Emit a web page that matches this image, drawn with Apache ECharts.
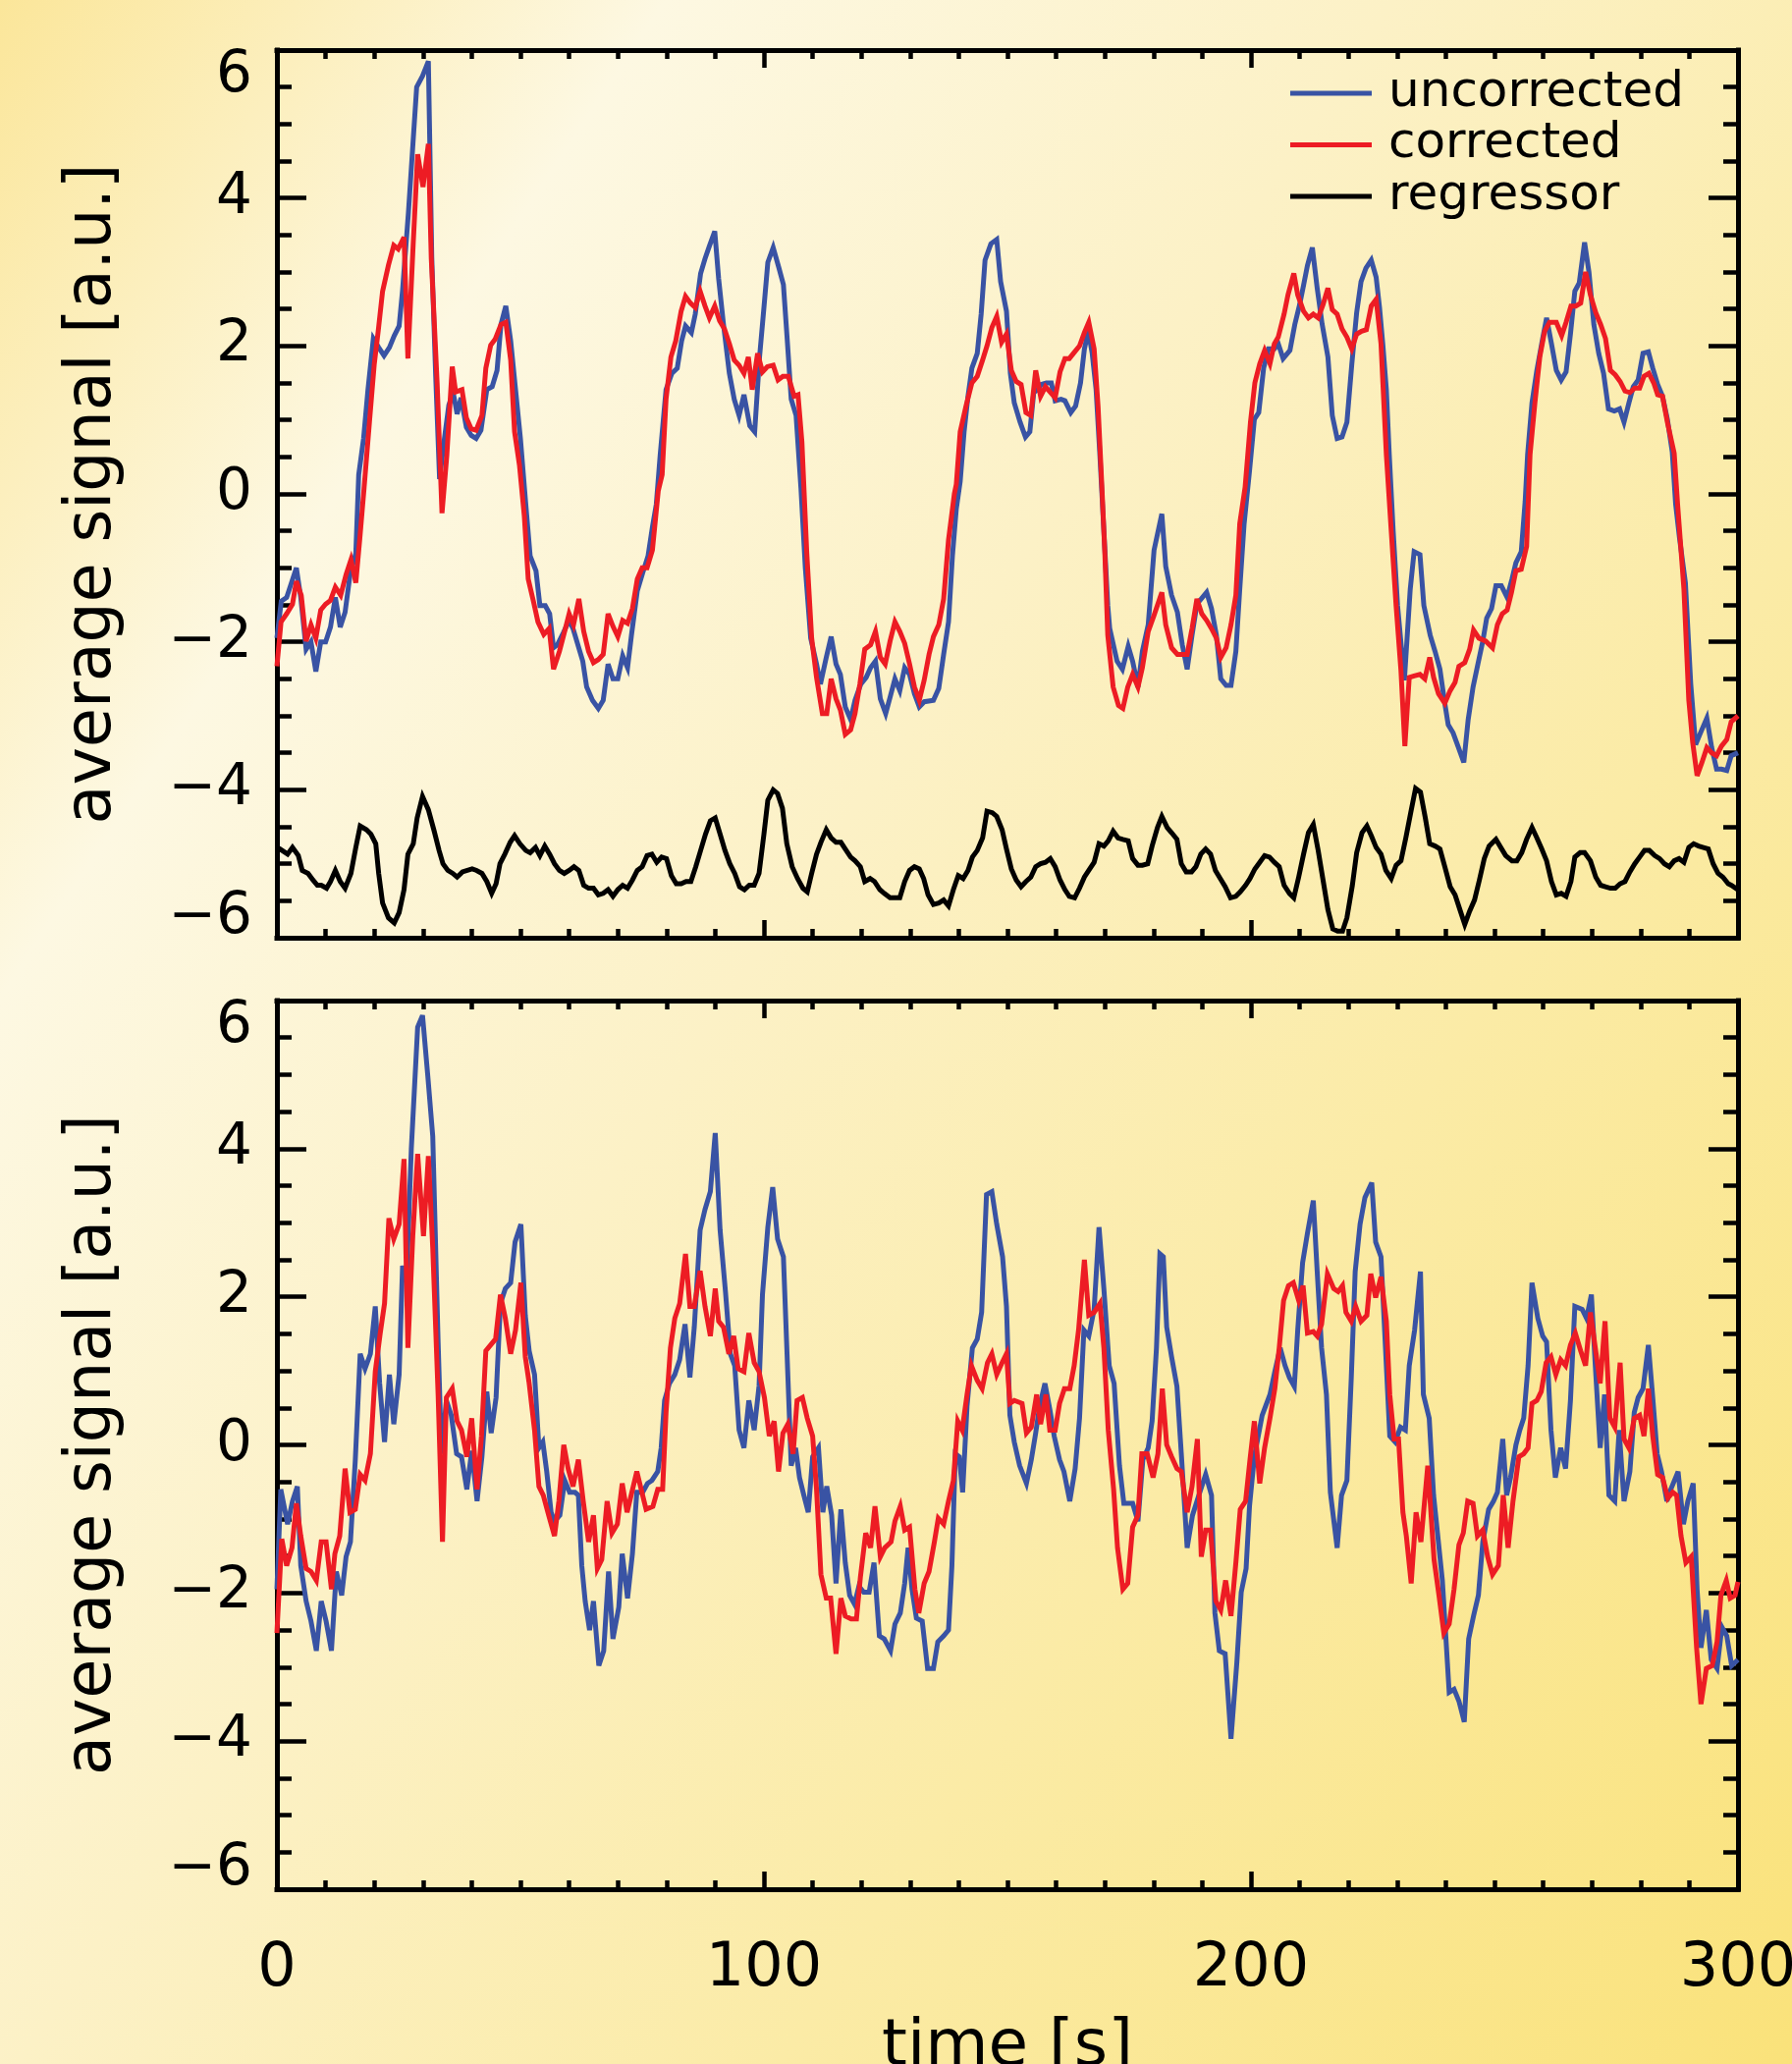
<!DOCTYPE html>
<html>
<head>
<meta charset="utf-8">
<script src="https://cdn.jsdelivr.net/npm/echarts@6/dist/echarts.min.js"></script>
<style>
html,body{margin:0;padding:0;}
#chart{width:1825px;height:2102px;background:linear-gradient(123.7deg,#fbe69a 0%,#fdf8e2 21%,#fcf1c6 44%,#fbeba6 68%,#fae27a 100%);}
</style>
</head>
<body>
<div id="chart"></div>
<script>
// ---- data (time [s], average signal [a.u.]) ----
const xTicks = [0, 100, 200, 300];
const yTicks = [-6, -4, -2, 0, 2, 4, 6];
const legendNames = ['uncorrected', 'corrected', 'regressor'];

const topUncorrected = [[0,-1.95],[0.9,-1.45],[2,-1.4],[4,-1.0],[4.9,-1.4],[6,-2.1],[7,-2.0],[8,-2.4],[9,-2.0],[10,-2.0],[11,-1.8],[12,-1.4],[13,-1.8],[14,-1.6],[15,-1.1],[16.2,-0.8],[16.8,0.26],[17.8,0.75],[18.7,1.41],[19.8,2.1],[20.9,1.98],[22,1.87],[23.1,1.98],[24.1,2.14],[25.1,2.27],[25.8,2.75],[27,3.8],[28.7,5.5],[29.9,5.65],[31.1,5.85],[31.8,3.2],[32.6,1.6],[33.4,0.2],[34.3,0.7],[35.3,1.2],[36.2,1.37],[37,1.08],[37.8,1.3],[38.9,0.9],[39.9,0.79],[40.9,0.75],[41.9,0.86],[43.1,1.41],[44.2,1.45],[45.2,1.67],[46,2.29],[47,2.54],[48,2.07],[49,1.41],[50,0.75],[51.1,-0.14],[52,-0.84],[53.2,-1.04],[54,-1.51],[55.1,-1.51],[56,-1.62],[56.8,-2.08],[57.6,-2.04],[58.8,-1.88],[60,-1.71],[60.8,-1.82],[62.8,-2.26],[63.6,-2.61],[64.8,-2.79],[66,-2.9],[67,-2.79],[68,-2.3],[69,-2.5],[70,-2.5],[71,-2.19],[72,-2.35],[72.8,-1.91],[74,-1.31],[75.1,-1.07],[76.2,-0.84],[77.1,-0.45],[77.9,-0.14],[78.7,0.53],[79.9,1.41],[81.1,1.63],[82.2,1.7],[83.1,2.07],[83.9,2.27],[85.1,2.18],[85.9,2.43],[87,2.98],[87.9,3.18],[88.8,3.35],[89.9,3.55],[90.7,2.91],[91.7,2.29],[92.9,1.63],[93.9,1.28],[94.9,1.06],[95.9,1.34],[97.1,0.92],[98.1,0.84],[99.1,1.85],[100,2.52],[100.8,3.13],[101.9,3.33],[103.1,3.05],[104,2.83],[104.8,2.07],[105.6,1.28],[106.6,1.06],[107.6,0.08],[108.5,-1.0],[109.6,-1.95],[110.8,-2.3],[111.6,-2.57],[112.8,-2.21],[113.8,-1.93],[114.8,-2.3],[115.7,-2.44],[116.7,-2.88],[117.8,-3.05],[118.7,-2.79],[119.9,-2.57],[121,-2.48],[121.9,-2.35],[122.9,-2.26],[123.9,-2.77],[125,-2.97],[125.9,-2.75],[126.9,-2.5],[127.9,-2.66],[128.9,-2.35],[129.9,-2.44],[130.9,-2.7],[131.9,-2.88],[132.9,-2.81],[134.8,-2.79],[135.9,-2.63],[136.9,-2.17],[137.9,-1.73],[138.7,-0.84],[139.5,-0.2],[140.3,0.17],[141.1,0.84],[141.9,1.32],[142.7,1.7],[143.8,1.9],[144.6,2.43],[145.4,3.16],[146.6,3.38],[147.8,3.44],[148.6,2.87],[149.8,2.47],[150.6,1.63],[151.4,1.23],[152.6,0.97],[153.7,0.77],[154.6,0.84],[155.4,1.37],[156.2,1.41],[157,1.48],[158,1.5],[159,1.5],[159.8,1.26],[161,1.28],[161.8,1.26],[163,1.1],[164,1.19],[165,1.5],[165.8,1.96],[166.6,2.2],[167.4,1.9],[168.2,1.41],[169,0.5],[169.8,-0.5],[170.6,-1.51],[171,-1.82],[172.5,-2.26],[173.6,-2.37],[174.8,-2.06],[175.7,-2.26],[176.8,-2.61],[177.7,-2.13],[178.9,-1.77],[180.1,-0.76],[181.7,-0.27],[182.5,-0.98],[183.7,-1.37],[184.9,-1.6],[185.9,-2.04],[186.9,-2.37],[187.9,-1.91],[188.9,-1.49],[190.9,-1.33],[191.9,-1.55],[192.9,-1.91],[193.8,-2.5],[194.9,-2.59],[195.9,-2.59],[196.9,-2.13],[197.7,-1.29],[198.6,-0.4],[199.7,0.31],[200.7,1.01],[201.6,1.1],[202.6,1.7],[203.6,1.96],[204.8,1.96],[205.6,2.03],[206.6,1.83],[208,1.94],[209,2.29],[210,2.56],[210.8,2.82],[211.6,3.09],[212.6,3.33],[213.6,2.78],[214.6,2.3],[215.8,1.85],[216.7,1.06],[217.7,0.75],[218.7,0.77],[219.7,0.97],[220.7,1.75],[221.7,2.45],[222.6,2.87],[223.6,3.05],[224.7,3.16],[225.7,2.93],[226.4,2.52],[227.1,2.0],[227.8,1.41],[228.4,0.53],[229.2,-0.5],[230.1,-1.51],[231.5,-2.52],[232.7,-1.29],[233.5,-0.78],[234.7,-0.82],[235.5,-1.51],[236.8,-1.91],[237.8,-2.13],[238.8,-2.37],[239.7,-2.79],[240.5,-3.12],[241.5,-3.23],[242.5,-3.41],[243.7,-3.63],[244.6,-3.05],[245.6,-2.61],[246.6,-2.3],[247.6,-1.99],[248.4,-1.68],[249.4,-1.55],[250.3,-1.24],[251.4,-1.24],[252.6,-1.4],[253.6,-1.15],[254.4,-0.93],[255.5,-0.78],[256.3,-0.1],[256.8,0.53],[257.7,1.23],[258.7,1.67],[259.7,2.03],[260.7,2.38],[261.7,2.03],[262.7,1.67],[263.7,1.54],[264.7,1.65],[265.6,2.16],[266.5,2.74],[267.4,2.85],[268.5,3.4],[269.4,3.0],[270.4,2.29],[271.4,1.9],[272.4,1.63],[273.4,1.15],[274.6,1.12],[275.7,1.15],[276.6,0.97],[277.6,1.23],[278.5,1.45],[279.5,1.54],[280.5,1.9],[281.6,1.92],[282.5,1.7],[283.5,1.48],[284.5,1.32],[285.5,1.01],[286.5,0.57],[287.2,-0.14],[288,-0.6],[289.2,-1.2],[290.3,-2.57],[291.3,-3.39],[292.3,-3.23],[293.6,-3.03],[294.6,-3.43],[295.6,-3.72],[296.6,-3.72],[297.7,-3.74],[298.6,-3.54],[300,-3.5]];

const topCorrected = [[0,-2.33],[0.85,-1.73],[2,-1.62],[3.2,-1.49],[4,-1.18],[5,-1.37],[6,-1.99],[7,-1.77],[8,-1.95],[9,-1.57],[10,-1.49],[11,-1.44],[12,-1.26],[13.1,-1.37],[14.2,-1.09],[15.2,-0.89],[16.2,-1.2],[17,-0.62],[17.9,0.08],[19,0.97],[20,1.76],[20.8,2.2],[21.7,2.74],[22.9,3.09],[24,3.36],[24.9,3.31],[26.1,3.47],[26.9,1.83],[28,3.4],[28.9,4.59],[30,4.15],[31.1,4.73],[31.7,3.18],[32.9,1.5],[33.9,-0.26],[34.9,0.53],[36,1.72],[36.7,1.38],[38,1.41],[38.9,1.03],[39.9,0.88],[40.9,0.86],[42.1,1.06],[42.9,1.7],[43.9,2.01],[44.8,2.09],[46,2.29],[47,2.32],[48,1.81],[48.8,0.84],[49.8,0.39],[50.8,-0.3],[51.6,-1.15],[52.7,-1.46],[53.6,-1.73],[54.8,-1.9],[55.9,-1.82],[56.8,-2.37],[58,-2.13],[59,-1.88],[60,-1.62],[60.9,-1.77],[62,-1.42],[63,-1.86],[64,-2.13],[65,-2.28],[66,-2.24],[67,-2.17],[68,-1.62],[69,-1.79],[70,-1.93],[71,-1.71],[72,-1.75],[73,-1.55],[74,-1.15],[75,-1.0],[76,-1.0],[77.1,-0.76],[78.3,0.04],[79.1,0.26],[79.9,1.28],[80.9,1.85],[81.9,2.07],[83,2.47],[83.9,2.67],[84.9,2.58],[85.9,2.52],[86.9,2.74],[87.9,2.54],[88.8,2.38],[89.9,2.54],[90.9,2.34],[91.9,2.23],[92.9,2.03],[93.9,1.81],[94.9,1.74],[95.9,1.63],[96.8,1.85],[97.6,1.41],[98.7,1.9],[99.7,1.65],[100.7,1.72],[101.9,1.74],[102.9,1.54],[103.9,1.59],[105,1.59],[106.2,1.32],[107,1.34],[107.8,0.7],[108.8,-0.8],[109.8,-1.95],[110.8,-2.48],[112,-2.97],[112.9,-2.97],[113.8,-2.5],[114.8,-2.77],[115.7,-2.92],[116.7,-3.25],[117.8,-3.19],[118.7,-2.97],[119.7,-2.57],[120.7,-2.1],[121.9,-2.04],[122.9,-1.86],[123.9,-2.21],[124.9,-2.3],[125.9,-1.99],[126.9,-1.73],[127.9,-1.86],[128.9,-2.02],[129.9,-2.3],[130.9,-2.61],[131.9,-2.79],[132.9,-2.52],[133.9,-2.17],[134.8,-1.93],[135.9,-1.77],[136.9,-1.42],[137.9,-0.62],[139.1,0.0],[139.5,0.13],[140.3,0.84],[141.5,1.19],[142.7,1.5],[143.8,1.59],[144.9,1.81],[145.8,2.0],[146.8,2.25],[147.8,2.4],[148.8,2.05],[149.8,2.16],[150.8,1.67],[151.8,1.52],[152.8,1.48],[153.8,1.1],[154.8,1.06],[155.8,1.67],[156.8,1.32],[157.8,1.45],[159.8,1.3],[160.8,1.65],[161.8,1.83],[162.7,1.83],[163.8,1.92],[164.8,2.0],[165.8,2.18],[166.7,2.32],[167.8,1.96],[168.6,1.19],[169.4,0.08],[170,-0.8],[170.6,-1.91],[171.7,-2.61],[172.8,-2.86],[173.7,-2.9],[174.7,-2.61],[175.7,-2.44],[176.8,-2.61],[177.7,-2.35],[178.9,-1.86],[180.1,-1.64],[181.7,-1.33],[182.5,-1.77],[183.7,-2.08],[184.9,-2.17],[185.9,-2.17],[186.9,-2.17],[187.9,-1.82],[188.9,-1.42],[189.9,-1.62],[190.9,-1.71],[191.9,-1.82],[192.9,-1.95],[193.8,-2.21],[194.9,-2.08],[195.9,-1.77],[196.9,-1.37],[197.7,-0.4],[198.8,0.09],[199.9,0.97],[200.8,1.5],[201.8,1.76],[202.8,1.94],[203.9,1.76],[204.8,2.03],[205.6,2.12],[206.8,2.43],[207.6,2.69],[208.8,2.98],[209.6,2.69],[210.8,2.47],[211.8,2.38],[212.8,2.43],[213.8,2.38],[214.8,2.56],[215.8,2.78],[216.7,2.49],[217.7,2.43],[218.7,2.23],[219.7,2.12],[220.7,1.96],[221.7,2.16],[222.7,2.2],[223.7,2.22],[224.7,2.54],[225.7,2.63],[226.7,2.03],[227.8,0.53],[228.8,-0.5],[229.8,-1.51],[230.8,-2.39],[231.6,-3.41],[232.5,-2.48],[233.5,-2.46],[234.7,-2.44],[235.7,-2.5],[236.7,-2.21],[237.5,-2.48],[238.5,-2.7],[239.8,-2.83],[240.9,-2.66],[241.9,-2.55],[242.7,-2.33],[243.9,-2.28],[244.9,-2.1],[245.7,-1.84],[246.8,-1.95],[248.2,-1.99],[249.6,-2.08],[250.6,-1.77],[251.6,-1.62],[252.6,-1.57],[253.5,-1.33],[254.4,-1.04],[255.5,-1.02],[256.6,-0.71],[257.3,0.53],[258.3,1.23],[259.3,1.85],[260.3,2.2],[261.3,2.32],[262.7,2.32],[263.8,2.14],[264.7,2.32],[265.7,2.54],[266.7,2.54],[267.7,2.58],[268.7,3.0],[269.7,2.69],[270.8,2.45],[271.8,2.29],[272.8,2.1],[273.8,1.67],[274.8,1.61],[275.8,1.52],[276.8,1.39],[277.8,1.37],[278.8,1.43],[279.8,1.43],[280.7,1.59],[281.7,1.63],[282.7,1.5],[283.5,1.34],[284.5,1.32],[285.5,0.97],[286.9,0.55],[287.6,-0.14],[288.9,-1.29],[289.9,-2.79],[290.7,-3.36],[291.6,-3.81],[292.6,-3.63],[293.6,-3.43],[294.6,-3.5],[295.6,-3.54],[296.6,-3.41],[297.7,-3.32],[298.6,-3.08],[300,-3.0]];

const regressor = [[0,-4.8],[0.6,-4.8],[2.2,-4.87],[3.2,-4.78],[4.4,-4.89],[5.2,-5.09],[6.4,-5.13],[7.4,-5.22],[8.3,-5.29],[9.1,-5.29],[10.2,-5.33],[11,-5.24],[12,-5.09],[13,-5.24],[14,-5.33],[15.2,-5.13],[16.2,-4.78],[17.1,-4.49],[18.4,-4.54],[19.3,-4.6],[20.3,-4.73],[20.9,-5.13],[21.7,-5.53],[22.9,-5.73],[24.1,-5.8],[25.1,-5.66],[26.1,-5.35],[26.9,-4.87],[28,-4.73],[28.8,-4.38],[29.9,-4.09],[31.1,-4.27],[32.3,-4.56],[33.3,-4.82],[34.1,-5.0],[35.1,-5.09],[36.1,-5.13],[37,-5.18],[38.1,-5.11],[39.1,-5.09],[40.1,-5.07],[41,-5.09],[42.1,-5.13],[43.1,-5.24],[44.1,-5.4],[45,-5.27],[45.8,-5.0],[46.8,-4.87],[47.9,-4.71],[48.8,-4.62],[49.9,-4.73],[51.1,-4.82],[52,-4.85],[53.1,-4.78],[54,-4.89],[55,-4.76],[56,-4.87],[57,-5.0],[58,-5.09],[59,-5.13],[60,-5.09],[61,-5.04],[62,-5.09],[63,-5.29],[64,-5.33],[65,-5.33],[66,-5.42],[67,-5.4],[68,-5.35],[69,-5.44],[70,-5.35],[71,-5.29],[72,-5.33],[73,-5.22],[74,-5.09],[75,-5.04],[76,-4.89],[77,-4.87],[78,-4.98],[79,-4.91],[80,-4.93],[81,-5.16],[82,-5.27],[83,-5.27],[84,-5.24],[85,-5.24],[86,-5.04],[87,-4.82],[88,-4.6],[89,-4.42],[90,-4.38],[91,-4.6],[92,-4.82],[93,-5.0],[94,-5.13],[95,-5.31],[96,-5.35],[97,-5.29],[98,-5.29],[99,-5.13],[100,-4.6],[100.8,-4.14],[101.9,-4.0],[102.8,-4.05],[103.8,-4.25],[104.7,-4.73],[105.8,-5.04],[106.9,-5.2],[108,-5.33],[108.9,-5.38],[109.8,-5.13],[110.8,-4.87],[111.7,-4.71],[112.8,-4.54],[113.8,-4.65],[114.8,-4.71],[115.8,-4.71],[116.7,-4.8],[117.8,-4.91],[118.7,-4.96],[119.8,-5.04],[120.7,-5.24],[121.8,-5.2],[122.7,-5.24],[123.8,-5.35],[124.7,-5.4],[125.9,-5.46],[127.9,-5.46],[128.9,-5.24],[129.9,-5.09],[130.9,-5.04],[131.9,-5.07],[132.8,-5.2],[133.7,-5.42],[134.8,-5.55],[135.9,-5.53],[136.9,-5.49],[137.9,-5.57],[138.9,-5.35],[139.9,-5.16],[140.9,-5.2],[141.9,-5.09],[142.8,-4.91],[143.8,-4.82],[144.9,-4.65],[145.8,-4.29],[146.9,-4.31],[147.8,-4.36],[148.9,-4.54],[149.8,-4.8],[150.8,-5.07],[151.8,-5.22],[152.8,-5.31],[153.8,-5.24],[154.8,-5.18],[155.8,-5.04],[156.8,-5.0],[157.8,-4.98],[158.8,-4.93],[159.8,-5.04],[160.8,-5.22],[161.8,-5.35],[162.7,-5.44],[163.8,-5.46],[164.8,-5.33],[165.8,-5.18],[166.7,-5.09],[167.8,-4.98],[168.8,-4.73],[169.8,-4.76],[170.7,-4.69],[171.7,-4.56],[172.7,-4.65],[173.7,-4.67],[174.8,-4.69],[175.7,-4.93],[176.8,-5.02],[177.7,-5.02],[178.8,-5.0],[179.7,-4.76],[180.8,-4.51],[181.7,-4.36],[182.8,-4.51],[183.7,-4.58],[184.8,-4.67],[185.7,-5.0],[186.7,-5.11],[187.8,-5.11],[188.7,-5.04],[189.7,-4.87],[190.7,-4.8],[191.7,-4.87],[192.7,-5.09],[193.7,-5.2],[194.7,-5.31],[195.8,-5.46],[196.9,-5.44],[197.8,-5.38],[198.9,-5.29],[199.8,-5.2],[200.8,-5.07],[201.8,-4.98],[202.8,-4.89],[203.8,-4.91],[204.8,-4.98],[205.8,-5.04],[206.8,-5.29],[207.9,-5.4],[208.8,-5.46],[209.8,-5.18],[210.8,-4.87],[211.8,-4.58],[212.8,-4.47],[213.8,-4.82],[214.8,-5.22],[215.8,-5.62],[216.8,-5.88],[217.8,-5.91],[218.8,-5.91],[219.7,-5.73],[220.8,-5.3],[221.7,-4.85],[222.8,-4.58],[223.8,-4.49],[224.7,-4.62],[225.7,-4.78],[226.7,-4.87],[227.7,-5.09],[228.8,-5.2],[229.8,-5.02],[230.8,-4.96],[231.8,-4.65],[232.8,-4.31],[233.8,-3.98],[234.8,-4.03],[235.8,-4.38],[236.7,-4.73],[237.8,-4.76],[238.8,-4.8],[239.8,-5.04],[240.9,-5.31],[241.9,-5.42],[242.9,-5.62],[243.9,-5.82],[244.9,-5.64],[245.9,-5.49],[246.9,-5.22],[247.9,-4.93],[248.9,-4.76],[250.3,-4.67],[251.3,-4.78],[252.3,-4.89],[253.6,-4.96],[254.6,-4.96],[255.6,-4.85],[256.6,-4.67],[257.7,-4.51],[258.7,-4.65],[259.7,-4.8],[260.7,-4.96],[261.7,-5.24],[262.7,-5.42],[263.7,-5.4],[264.7,-5.44],[265.7,-5.24],[266.5,-4.91],[267.6,-4.85],[268.5,-4.85],[269.7,-4.96],[270.8,-5.18],[271.8,-5.29],[272.8,-5.31],[273.8,-5.33],[274.8,-5.33],[275.8,-5.27],[276.8,-5.24],[277.8,-5.11],[278.8,-5.0],[279.8,-4.91],[280.8,-4.82],[281.8,-4.82],[282.9,-4.89],[283.9,-4.93],[284.9,-5.0],[285.9,-5.04],[286.9,-4.96],[287.9,-4.93],[288.9,-4.98],[289.9,-4.78],[290.9,-4.73],[291.9,-4.76],[292.9,-4.78],[293.9,-4.8],[294.9,-5.0],[295.9,-5.13],[296.9,-5.18],[298,-5.27],[298.6,-5.29],[300,-5.35]];

const bottomUncorrected = [[0,-1.95],[0.8,-0.6],[2.2,-1.07],[3.2,-0.76],[4.2,-0.56],[4.9,-1.63],[6,-2.11],[7,-2.38],[8.1,-2.78],[9.1,-2.11],[10.1,-2.38],[11.2,-2.78],[12.2,-1.71],[13.3,-2.03],[14.2,-1.51],[15.1,-1.31],[16.1,-0.2],[17.1,1.23],[18.1,1.03],[19.2,1.23],[20.2,1.87],[21.1,0.83],[22.1,0.04],[23.1,0.95],[24,0.28],[25.1,0.95],[25.8,2.42],[26.6,2.2],[27.6,4.0],[28.9,5.64],[29.9,5.8],[31,4.97],[32,4.17],[33.1,1.39],[33.8,-0.12],[34.8,0.6],[35.8,0.4],[36.9,-0.12],[37.9,-0.16],[39,-0.6],[40,-0.08],[41.1,-0.76],[42.1,-0.16],[43.1,0.72],[44,0.16],[45,0.64],[45.9,1.91],[46.9,2.11],[48,2.19],[48.9,2.74],[50.1,2.98],[51,1.75],[51.8,1.27],[52.9,0.95],[53.8,-0.04],[54.6,0.04],[55.4,-0.36],[56.3,-0.91],[57,-1.03],[58.1,-0.95],[59.1,-0.48],[60.1,-0.64],[61.2,-0.64],[61.9,-0.68],[62.6,-1.63],[63.3,-2.11],[64.2,-2.5],[65,-2.11],[66.1,-2.98],[67.1,-2.78],[68.1,-1.71],[69,-2.62],[70.2,-2.19],[70.9,-1.47],[72,-2.07],[73,-1.47],[73.9,-0.64],[75.1,-0.64],[76.1,-0.52],[77,-0.48],[78.2,-0.36],[78.9,-0.04],[79.6,0.6],[80.6,0.83],[81.7,0.95],[82.7,1.15],[83.8,1.63],[84.8,0.91],[85.7,1.59],[86.9,2.9],[87.9,3.18],[89,3.42],[90,4.21],[91,2.9],[92.1,2.07],[93.1,1.23],[94,1.07],[94.9,0.2],[95.9,-0.04],[96.9,0.6],[98,0.2],[99,0.8],[99.7,2.03],[100.8,2.94],[101.8,3.48],[102.8,2.78],[104,2.54],[104.7,1.31],[105.6,-0.28],[106.5,-0.04],[107.3,-0.44],[108.2,-0.68],[109.1,-0.91],[110,-0.16],[111.2,-0.04],[112.1,-0.91],[112.9,-0.56],[113.9,-0.95],[114.8,-1.87],[115.8,-0.87],[116.7,-1.59],[117.6,-2.03],[118.6,-2.15],[119.5,-1.91],[120.5,-1.99],[121.6,-1.99],[122.6,-1.59],[123.7,-2.58],[124.7,-2.62],[126,-2.78],[126.9,-2.42],[128,-2.27],[128.9,-1.87],[129.6,-1.39],[130.4,-1.95],[131.3,-2.34],[132.5,-2.38],[133.6,-3.02],[134.8,-3.02],[135.7,-2.66],[136.9,-2.58],[137.9,-2.5],[138.6,-1.63],[139.3,-0.12],[140.1,-0.16],[140.8,-0.64],[141.7,0.52],[142.8,1.31],[143.8,1.43],[144.7,1.79],[145.7,3.38],[146.8,3.42],[147.8,2.98],[149,2.54],[149.8,1.87],[150.5,0.4],[151.4,0.04],[152.5,-0.28],[153.9,-0.52],[154.9,-0.2],[155.8,0.16],[156.6,0.52],[157.7,0.83],[158.7,0.48],[159.6,0.12],[160.7,-0.2],[161.6,-0.36],[162.8,-0.76],[163.9,-0.32],[164.8,0.36],[165.7,1.55],[166.7,1.47],[167.8,1.83],[168.8,2.94],[169.8,2.11],[170.9,1.07],[171.9,0.83],[173,-0.28],[173.9,-0.79],[175.7,-0.79],[176.8,-1.03],[177.8,-0.2],[178.9,-0.04],[179.7,0.32],[180.6,1.31],[181.3,2.58],[182,2.54],[182.7,1.59],[183.7,1.19],[184.8,0.79],[185.7,-0.12],[186.9,-1.39],[188,-0.95],[189.3,-0.68],[190.7,-0.4],[191.9,-0.68],[192.6,-2.27],[193.5,-2.78],[194.7,-2.82],[195.9,-3.97],[197.1,-2.94],[198,-1.99],[199,-1.67],[199.7,-0.83],[200.7,-0.16],[202.3,0.4],[203.9,0.68],[204.9,0.99],[206,1.31],[207,1.07],[207.9,0.91],[208.9,0.79],[209.6,1.55],[210.6,2.46],[211.6,2.86],[212.8,3.3],[213.6,2.34],[214.5,1.31],[215.5,0.68],[216.3,-0.64],[217.7,-1.39],[218.6,-0.68],[219.7,-0.48],[220.6,0.91],[221.4,2.34],[222.4,2.98],[223.4,3.34],[224.8,3.54],[225.6,2.74],[226.7,2.54],[227.5,1.47],[228.5,0.12],[229.6,0.04],[230.7,0.24],[231.7,0.2],[232.5,1.07],[233.6,1.55],[234.8,2.34],[235.4,0.68],[236.6,0.36],[237.5,-0.68],[238.3,-1.19],[239.3,-1.83],[240,-2.58],[240.7,-3.34],[241.7,-3.3],[242.7,-3.46],[243.8,-3.74],[244.7,-2.62],[245.7,-2.31],[246.7,-2.03],[247.6,-1.31],[248.8,-0.87],[249.8,-0.76],[250.6,-0.64],[251.7,0.08],[252.5,-0.68],[253.3,-0.44],[254.4,0],[255.2,0.2],[256,0.36],[256.9,1.07],[257.7,2.19],[258.9,1.71],[259.9,1.47],[260.7,1.39],[261.6,0.2],[262.5,-0.44],[263.6,-0.04],[264.6,-0.32],[265.6,0.6],[266.5,1.87],[268,1.83],[268.9,1.71],[269.9,2.03],[270.7,1.07],[271.7,-0.04],[272.6,0.68],[273.5,-0.68],[274.7,-0.76],[275.6,0.2],[276.6,-0.76],[277.8,-0.36],[278.7,0.44],[279.5,0.64],[280.5,0.76],[281.6,1.35],[282.5,0.64],[283.4,-0.12],[284.3,-0.36],[285.4,-0.76],[286.2,-0.6],[287.7,-0.36],[288.8,-1.07],[289.7,-0.76],[290.8,-0.52],[291.6,-1.95],[292.4,-2.74],[293.5,-2.23],[294.5,-2.9],[295.7,-3.02],[296.7,-2.46],[297.7,-2.58],[298.7,-2.98],[300,-2.9]];

const bottomCorrected = [[0,-2.54],[1,-1.27],[2,-1.63],[3.1,-1.39],[4,-0.79],[4.9,-1.23],[6,-1.67],[7,-1.71],[8.1,-1.83],[9.1,-1.31],[10.1,-1.31],[11.2,-1.95],[11.9,-1.47],[12.9,-1.23],[14,-0.32],[15,-0.91],[16.1,-0.87],[17.1,-0.4],[18.1,-0.48],[19.2,-0.12],[20.2,0.99],[21.2,1.5],[22.1,1.91],[23,3.06],[24,2.78],[25.1,2.98],[26.1,3.86],[26.9,1.31],[27.9,2.82],[28.9,3.93],[30.1,2.82],[31.1,3.9],[32,2.66],[33.1,0.68],[34,-1.31],[34.8,0.64],[36,0.76],[37,0.32],[37.9,0.2],[39,-0.16],[40,0.36],[41.1,-0.6],[42,0.12],[42.9,1.27],[44.9,1.43],[45.9,2.03],[46.9,1.71],[48,1.23],[49,1.55],[50.1,2.19],[51,1.19],[51.8,0.83],[52.9,0.2],[53.8,-0.56],[54.7,-0.68],[55.8,-0.95],[57,-1.23],[57.9,-0.76],[58.9,0],[59.8,-0.32],[60.8,-0.56],[61.9,-0.2],[62.9,-0.76],[64,-1.31],[65,-0.95],[65.8,-1.67],[66.7,-1.55],[67.8,-0.76],[68.8,-1.19],[69.9,-1.07],[70.9,-0.52],[71.9,-0.91],[73.9,-0.36],[75.8,-0.87],[77.2,-0.83],[78.2,-0.6],[79.2,-0.6],[79.9,0.44],[80.8,1.31],[81.7,1.71],[82.7,1.91],[83.9,2.58],[84.8,1.87],[85.7,1.87],[86.9,2.35],[87.9,1.87],[89,1.47],[90,2.11],[90.7,1.67],[91.7,1.59],[92.8,1.23],[93.8,1.47],[94.7,1.03],[95.9,0.99],[96.9,1.51],[98,1.11],[99,0.99],[100.1,0.64],[101.1,0.12],[102.1,0.32],[103,-0.36],[103.9,0.16],[104.9,0.28],[106,-0.12],[106.8,0.6],[107.9,0.64],[108.9,0.36],[110,0.12],[110.8,-0.6],[111.7,-1.75],[112.8,-2.07],[113.7,-2.07],[114.8,-2.82],[115.8,-2.07],[116.7,-2.31],[117.9,-2.35],[119,-2.35],[119.8,-1.79],[120.9,-1.19],[121.9,-1.39],[122.8,-0.83],[123.9,-1.51],[124.8,-1.39],[126.1,-1.31],[126.9,-1.03],[128,-0.83],[128.9,-1.15],[129.9,-1.11],[131,-1.95],[131.8,-2.27],[132.9,-1.87],[133.9,-1.71],[135,-1.31],[135.8,-0.99],[136.9,-1.07],[137.9,-0.76],[138.9,-0.48],[139.8,0.32],[140.7,0.2],[141.7,0.68],[142.6,1.07],[143.8,0.87],[144.8,0.76],[145.9,1.11],[146.8,1.23],[147.8,0.95],[148.9,1.11],[149.8,1.23],[150.5,0.56],[151.4,0.6],[153,0.56],[153.9,0.16],[154.9,0.24],[156,0.68],[156.8,0.28],[157.9,0.68],[158.7,0.2],[159.8,0.2],[160.7,0.56],[161.7,0.76],[162.8,0.76],[163.7,1.07],[164.6,1.55],[165.8,2.5],[166.7,1.75],[167.8,1.79],[169,1.91],[169.8,1.31],[170.7,0.2],[171.8,-0.6],[172.6,-1.39],[173.7,-1.95],[174.7,-1.87],[175.7,-1.11],[176.8,-0.95],[177.6,-0.12],[178.7,-0.12],[179.9,-0.44],[180.9,-0.12],[181.8,0.76],[182.7,0],[183.7,-0.16],[184.8,-0.32],[185.7,-0.36],[186.9,-0.91],[187.9,-0.56],[189,0.08],[189.8,-1.51],[190.7,-1.15],[191.7,-1.15],[192.8,-2.11],[193.8,-2.23],[194.8,-1.83],[195.9,-2.31],[196.9,-1.59],[197.8,-0.87],[198.9,-0.76],[199.8,-0.2],[200.7,0.32],[201.8,-0.52],[202.8,-0.04],[203.9,0.36],[204.9,0.76],[205.8,1.31],[206.7,1.95],[207.7,2.15],[208.7,2.19],[209.8,1.95],[210.7,2.15],[211.6,1.51],[212.8,1.53],[213.6,1.47],[214.5,1.63],[215.7,2.31],[217,2.11],[217.9,2.07],[218.8,2.15],[219.5,1.79],[220.6,1.67],[221.5,1.87],[222.6,1.67],[223.8,1.75],[224.6,2.31],[225.6,1.99],[226.7,2.27],[227.8,1.67],[228.5,0.68],[229.4,0.08],[230.3,0.08],[231.2,-0.91],[231.9,-1.23],[232.9,-1.87],[233.9,-0.91],[234.9,-1.31],[236.3,-0.28],[237.6,-1.55],[238.6,-2.03],[239.6,-2.54],[240.7,-2.42],[241.7,-1.95],[242.7,-1.35],[243.6,-1.19],[244.5,-0.76],[245.6,-0.79],[246.5,-1.23],[247.6,-1.15],[248.6,-1.51],[249.6,-1.75],[250.8,-1.63],[251.8,-0.68],[252.8,-1.39],[253.8,-0.76],[255,-0.16],[256,-0.12],[256.9,-0.04],[257.7,0.56],[258.7,0.6],[259.6,0.72],[260.6,1.11],[261.6,1.19],[262.6,0.95],[263.6,1.15],[264.6,1.07],[265.6,1.35],[266.6,1.51],[267.7,1.27],[268.7,1.07],[269.7,1.79],[270.7,1.31],[271.7,0.83],[272.7,1.67],[273.7,0.36],[274.7,0.24],[275.8,1.11],[276.6,0.08],[277.6,-0.04],[278.7,0.36],[279.8,0.4],[280.7,0.12],[281.6,0.76],[282.5,0.12],[283.5,-0.4],[284.5,-0.44],[285.6,-0.72],[286.6,-0.64],[287.4,-0.68],[288.3,-1.23],[289.3,-1.59],[290.4,-1.51],[291.5,-2.74],[292.4,-3.5],[293.5,-3.02],[294.7,-2.98],[295.7,-2.66],[296.5,-2.03],[297.6,-1.83],[298.4,-2.07],[299.4,-2.03],[300,-1.85]];

// ---- styling ----
const BLUE = '#3953a4', RED = '#ed1c24', BLACK = '#000000';
const FONT = 'DejaVu Sans';
const LW = 5;
const FRAME = 5;

function xAxisDef(gridIndex, position, showLabels) {
  return {
    type: 'value', gridIndex: gridIndex, position: position,
    min: xTicks[0], max: xTicks[xTicks.length - 1], interval: xTicks[1] - xTicks[0],
    axisLine: { show: true, onZero: false, lineStyle: { color: BLACK, width: FRAME, cap: 'square' } },
    axisTick: { show: true, inside: true, length: 18, lineStyle: { color: BLACK, width: 4.5 } },
    minorTick: { show: true, splitNumber: 10, length: 9, lineStyle: { color: BLACK, width: 4.5 } },
    splitLine: { show: false },
    axisLabel: { show: showLabels, margin: 51, color: BLACK, fontFamily: FONT, fontSize: 62 },
    name: showLabels ? 'time [s]' : '',
    nameLocation: 'middle', nameGap: 129,
    nameTextStyle: { color: BLACK, fontFamily: FONT, fontSize: 66 }
  };
}
const yLabelStyle = { color: BLACK, fontFamily: FONT, fontSize: 58 };
function yAxisDef(gridIndex, position, showLabels) {
  const yMin = yTicks[0], yMax = yTicks[yTicks.length - 1];
  return {
    type: 'value', gridIndex: gridIndex, position: position,
    min: yMin, max: yMax, interval: yTicks[1] - yTicks[0],
    axisLine: { show: true, onZero: false, lineStyle: { color: BLACK, width: FRAME, cap: 'square' } },
    axisTick: { show: true, inside: true, length: 30, lineStyle: { color: BLACK, width: 4.5 } },
    minorTick: { show: true, splitNumber: 4, length: 15, lineStyle: { color: BLACK, width: 4.5 } },
    splitLine: { show: false },
    axisLabel: Object.assign({
      show: showLabels, margin: 25,
      formatter: function (v) {
        const s = v < 0 ? '\u2212' + Math.abs(v) : String(v);
        if (v === yMax) return '{hi|' + s + '}';
        if (v === yMin) return '{lo|' + s + '}';
        return s;
      },
      rich: {
        hi: Object.assign({ padding: [54, 0, 0, 0] }, yLabelStyle),
        lo: Object.assign({ padding: [0, 0, 40, 0] }, yLabelStyle)
      }
    }, yLabelStyle),
    name: showLabels ? 'average signal [a.u.]' : '',
    nameLocation: 'middle', nameGap: 154, nameRotate: 90,
    nameTextStyle: { color: BLACK, fontFamily: FONT, fontSize: 65 }
  };
}
function lineSeries(name, data, color, xi, yi) {
  return {
    type: 'line', name: name, data: data, xAxisIndex: xi, yAxisIndex: yi,
    symbol: 'none', showSymbol: false, animation: false, clip: true,
    lineStyle: { color: color, width: LW, join: 'miter', miterLimit: 4 },
    itemStyle: { color: color }
  };
}

const chart = echarts.init(document.getElementById('chart'), null, { renderer: 'canvas' });
chart.setOption({
  backgroundColor: 'transparent',
  animation: false,
  grid: [
    { left: 282, right: 55, top: 51, height: 904, containLabel: false, outerBoundsMode: 'none' },
    { left: 282, right: 55, top: 1019, height: 905, containLabel: false, outerBoundsMode: 'none' }
  ],
  xAxis: [
    xAxisDef(0, 'bottom', false), xAxisDef(0, 'top', false),
    xAxisDef(1, 'bottom', true), xAxisDef(1, 'top', false)
  ],
  yAxis: [
    yAxisDef(0, 'left', true), yAxisDef(0, 'right', false),
    yAxisDef(1, 'left', true), yAxisDef(1, 'right', false)
  ],
  legend: {
    data: legendNames, orient: 'vertical', left: 1314, top: 70, padding: 0,
    icon: 'rect', itemWidth: 83, itemHeight: 5, itemGap: 2.5,
    textStyle: { color: BLACK, fontFamily: FONT, fontSize: 50, lineHeight: 50, padding: [0, 0, 0, 12] },
    selectedMode: false
  },
  series: [
    lineSeries('uncorrected', topUncorrected, BLUE, 0, 0),
    lineSeries('corrected', topCorrected, RED, 0, 0),
    lineSeries('regressor', regressor, BLACK, 0, 0),
    lineSeries('uncorrected', bottomUncorrected, BLUE, 2, 2),
    lineSeries('corrected', bottomCorrected, RED, 2, 2)
  ]
});
</script>
</body>
</html>
